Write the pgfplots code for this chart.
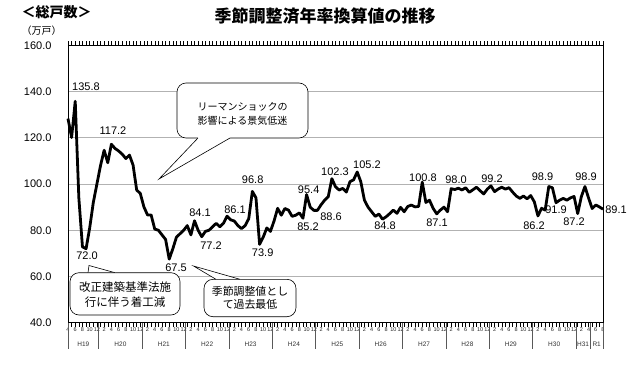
\documentclass[border=0pt]{standalone}
\usepackage{pgfplots}
\pgfplotsset{compat=1.18}
\usepackage{fontspec}
\setmainfont{Liberation Sans}
\newfontfamily\jp{Noto Sans CJK JP}
\pgfplotstableread{
i v
0 128.3
1 120.1
2 135.8
3 94
4 72.8
5 72.0
6 81
7 92
8 100
9 108
10 114.6
11 109.2
12 117.2
13 115.4
14 114.3
15 112.9
16 111.0
17 112.5
18 108.2
19 97.4
20 95.9
21 90.1
22 86.6
23 86.6
24 80.5
25 80
26 78
27 76
28 67.5
29 72
30 77
31 78.5
32 80
33 82
34 78
35 84.1
36 80
37 77.2
38 79.5
39 80
40 81.5
41 83
42 81.5
43 83
44 86.1
45 84.5
46 84
47 82
48 80.7
49 82
50 85
51 96.8
52 94
53 73.9
54 77
55 81
56 79.5
57 84
58 89.5
59 86.5
60 89.4
61 88.7
62 86
63 86.5
64 87.5
65 85.2
66 95.4
67 90
68 88.6
69 88.6
70 91
71 93
72 94.5
73 102.3
74 98.8
75 97.4
76 98.1
77 96.5
78 101
79 101.8
80 105.2
81 101
82 93
83 90
84 88
85 86
86 87
87 84.8
88 85.8
89 87.2
90 88.7
91 87.3
92 89.9
93 88
94 90.3
95 90.9
96 90.1
97 90.3
98 100.8
99 92
100 93
101 89.5
102 87.1
103 88.7
104 90
105 88
106 98.0
107 97.6
108 98.2
109 97.4
110 98.4
111 96.4
112 97.5
113 98.6
114 97.1
115 95.7
116 97.8
117 99.2
118 96.7
119 97.8
120 98.6
121 97.8
122 98.4
123 96.5
124 94.8
125 93.8
126 94.8
127 93.6
128 95
129 92.3
130 86.2
131 89.5
132 88.7
133 98.9
134 98.4
135 91.9
136 93
137 93.8
138 93
139 94
140 94.6
141 87.2
142 94.5
143 98.9
144 94
145 89.4
146 90.9
147 90.1
148 89.1
}\datatable
\begin{document}
\begin{tikzpicture}[x=1pt,y=1pt]
\useasboundingbox (0,0) rectangle (640,368);
\begin{axis}[
  at={(68pt,45.3pt)}, anchor=south west,
  scale only axis, width=535pt, height=277.4pt,
  xmin=0, xmax=148, ymin=40, ymax=160,
  ytick={40,60,...,160},
  xtick={0,2,...,148},
  minor xtick={1,3,...,147},
  xticklabel={\pgfmathparse{int(mod(\tick+3,12)+1)}\pgfmathresult},
  xticklabel style={font=\fontsize{5.5}{5.5}\selectfont, inner sep=0pt, yshift=-1pt, text=black!85},
  tick align=outside,
  major tick length=4pt, minor tick length=4pt,
  ytick style={draw=none},
  xtick style={line width=0.4pt, black},
  ymajorgrids,
  grid style={gray!60, line width=0.8pt},
  axis line style={line width=0.8pt, black},
  yticklabel style={font=\fontsize{11}{11}\selectfont, xshift=-9pt},
  /pgf/number format/assume math mode=true,
  yticklabel={\pgfmathprintnumber[fixed,fixed zerofill,precision=1]{\tick}},
  clip=false,
]
\addplot[black, line width=2.8pt, line join=round] table[x=i, y=v] {\datatable};
\foreach \b in {0,8.5,20.5,32.5,44.5,56.5,68.5,80.5,92.5,104.5,116.5,128.5,140.5,144.5,148} {
  \edef\temp{\noexpand\draw[gray!70!black, line width=0.5pt] (axis cs:\b,40) -- ++(0pt,-26pt);}
  \temp
}
\foreach \c/\t in {4.25/H19,14.5/H20,26.5/H21,38.5/H22,50.5/H23,62.5/H24,74.5/H25,86.5/H26,98.5/H27,110.5/H28,122.5/H29,134.5/H30,142.5/H31,146.25/R1} {
  \edef\temp{\noexpand\node[font=\noexpand\fontsize{6.5}{6.5}\noexpand\selectfont, text=black!80] at (axis cs:\c,40) [yshift=-21.5pt] {\t};}
  \temp
}
\end{axis}
% titles
\node[font=\jp\bfseries\fontsize{17}{17}\selectfont] at (325,352) {季節調整済年率換算値の推移};
\node[font=\jp\bfseries\fontsize{14}{14}\selectfont] at (56.7,355.5) {＜総戸数＞};
\node[font=\jp\fontsize{10}{10}\selectfont] at (41.5,337.5) {（万戸）};
% data labels
\begin{scope}[every node/.style={font=\fontsize{11}{11}\selectfont, inner sep=0pt}]
\node at (86,281) {135.8};
\node at (113,237) {117.2};
\node at (87,112.3) {72.0};
\node at (176,100) {67.5};
\node at (200,155) {84.1};
\node at (211,122) {77.2};
\node at (235,158) {86.1};
\node at (252.7,188) {96.8};
\node at (262.7,115) {73.9};
\node at (308.7,178) {95.4};
\node at (308,141.3) {85.2};
\node at (331,151) {88.6};
\node at (335,196.3) {102.3};
\node at (367,203) {105.2};
\node at (385,142) {84.8};
\node at (423,190.7) {100.8};
\node at (437,145.3) {87.1};
\node at (456,188.7) {98.0};
\node at (492,189.7) {99.2};
\node at (542.5,191.3) {98.9};
\node at (556,158.7) {91.9};
\node at (534,142) {86.2};
\node at (574,146.3) {87.2};
\node at (586,191.3) {98.9};
\node at (616,158) {89.1};
\end{scope}
% callout 1
\draw[fill=white, rounded corners=9pt, line width=0.6pt] (177,230) rectangle (308,285);
\fill[white] (198,230.8) -- (230,230.8) -- (230,230) -- (159,189) -- (198,230) -- cycle;
\draw[line width=0.6pt] (198,230) -- (159,189) -- (230,230);
\node[font=\jp\fontsize{10}{14}\selectfont, align=center] at (242.5,254) {リーマンショックの\\影響による景気低迷};
% callout 2
\draw[fill=white, rounded corners=9pt, line width=0.6pt] (70,53) rectangle (180,95.3);
\fill[white] (88,96.1) -- (115,96.1) -- (115,95.3) -- (89,102.5) -- (88,95.3) -- cycle;
\draw[line width=0.6pt] (88,95.3) -- (89,102.5) -- (115,95.3);
\node[font=\jp\fontsize{11.5}{15}\selectfont, align=center] at (125,73.7) {改正建築基準法施\\行に伴う着工減};
% callout 3
\draw[fill=white, rounded corners=9pt, line width=0.6pt] (204,51.3) rectangle (296,88.7);
\fill[white] (216,89.5) -- (240,89.5) -- (240,88.7) -- (193.5,102) -- (216,88.7) -- cycle;
\draw[line width=0.6pt] (216,88.7) -- (193.5,102) -- (240,88.7);
\node[font=\jp\fontsize{10.9}{13}\selectfont, align=center] at (250,70) {季節調整値とし\\て過去最低};
\end{tikzpicture}
\end{document}
